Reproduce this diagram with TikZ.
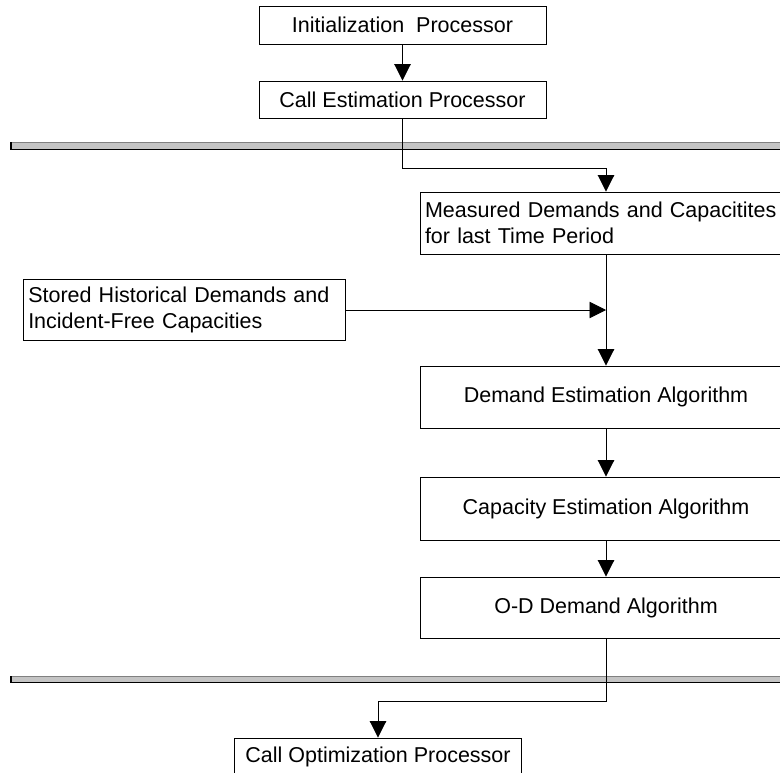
\documentclass[tikz,border=0pt]{standalone}
\usepackage{fontspec}
\setmainfont{Liberation Sans}
\usetikzlibrary{arrows.meta}
\begin{document}
\begin{tikzpicture}[x=1pt,y=-1pt,
  box/.style={draw=black, line width=0.9pt, inner xsep=5pt, inner ysep=0pt,
    font=\fontsize{21.5}{25.5}\selectfont},
  cbox/.style={box, align=center},
  lbox/.style={box, align=left, font=\fontsize{21.5}{26.5}\selectfont},
  arr/.style={draw=black, line width=0.9pt, -{Triangle[length=16.5pt,width=16.5pt]}},
  barfill/.style={fill=black!23},
]
\useasboundingbox (0,0) rectangle (780,773);
% separator bars
\foreach \yt/\yb in {142.5/149.5, 676/682.5}{
  \fill[barfill] (11,\yt) rectangle (790,\yb);
  \draw[black!50, line width=1pt] (11,\yt) -- (790,\yt);
  \draw[black, line width=1.2pt] (11,\yt) -- (11,\yb) -- (790,\yb);
}
% nodes
\node[cbox, minimum width=287pt, minimum height=38pt] (init) at (402.5,25) {Initialization\ \ Processor};
\node[cbox, minimum width=287pt, minimum height=37pt] (cep) at (402.5,99.5) {Call Estimation Processor};
\node[lbox, text width=362pt, minimum height=62pt] (meas) at (606,223) {Measured Demands and Capacitites\\for last Time Period};
\node[lbox, text width=312.5pt, minimum height=61.5pt] (stored) at (184.5,310) {Stored Historical Demands and\\Incident-Free Capacities};
\node[cbox, minimum width=372pt, minimum height=62pt] (dem) at (606,397) {Demand Estimation Algorithm};
\node[cbox, minimum width=372pt, minimum height=63pt] (cap) at (606,508.5) {Capacity Estimation Algorithm};
\node[cbox, minimum width=372pt, minimum height=61pt] (od) at (606,607.5) {O-D Demand Algorithm};
\node[cbox, minimum width=287pt, minimum height=38pt] (cop) at (378,757) {Call Optimization Processor};
\coordinate (join) at (meas.south |- stored.east);
% connectors
\draw[arr] (init) -- (cep);
\draw[arr] (cep.south) -- ++(0,50) -| (meas.north);
\draw[arr] (stored.east) -- (join);
\draw[arr] (meas.south) -- (dem.north);
\draw[arr] (dem) -- (cap);
\draw[arr] (cap) -- (od);
\draw[arr] (od.south) -- ++(0,62.7) -| (cop.north);
\end{tikzpicture}
\end{document}
